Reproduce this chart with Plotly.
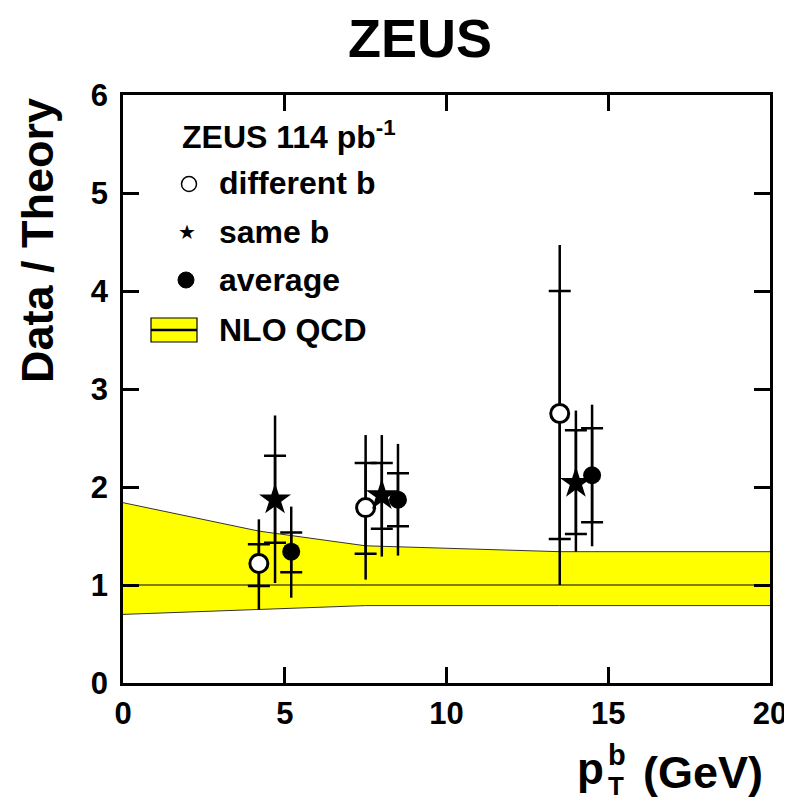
import plotly.graph_objects as go

# ---------------- data ----------------
band_x = [0.0, 4.2, 7.5, 13.5, 20.0]
band_hi = [1.84, 1.55, 1.40, 1.34, 1.34]
band_lo = [0.70, 0.75, 0.79, 0.79, 0.79]
nlo_center = [1.0, 1.0, 1.0, 1.0, 1.0]

diff_pt = [4.2, 7.5, 13.5]
diff_r = [1.22, 1.79, 2.75]
diff_tot_hi = [1.67, 2.53, 4.47]
diff_tot_lo = [0.75, 1.055, 1.0]
diff_stat_hi = [1.415, 2.245, 4.0]
diff_stat_lo = [0.99, 1.32, 1.47]

same_pt = [4.7, 8.0, 14.0]
same_r = [1.87, 1.915, 2.04]
same_tot_hi = [2.73, 2.53, 2.78]
same_tot_lo = [1.02, 1.29, 1.34]
same_stat_hi = [2.32, 2.245, 2.58]
same_stat_lo = [1.43, 1.575, 1.52]

avg_pt = [5.2, 8.5, 14.5]
avg_r = [1.34, 1.87, 2.12]
avg_tot_hi = [1.80, 2.44, 2.84]
avg_tot_lo = [0.87, 1.30, 1.395]
avg_stat_hi = [1.535, 2.14, 2.60]
avg_stat_lo = [1.13, 1.60, 1.64]

x_ticks = [0, 5, 10, 15, 20]
y_ticks = [0, 1, 2, 3, 4, 5, 6]

# ---------------- layout geometry ----------------
# page has an 8px body margin, so the figure is shifted by 8px
OFF = 8
W, H = 792 - OFF, 805 - OFF
PL, PR, PT, PB = 123, 770, 95, 683      # plot frame in page pixels
L, T = PL - OFF, PT - OFF
R, B = (792 - PR), (805 - PB)
PW, PH = PR - PL, PB - PT


def fx(px):
    return (px - PL) / PW


def fy(py):
    return (PB - py) / PH


FONT = "Liberation Sans, Arial, Helvetica, sans-serif"

fig = go.Figure()

# NLO band
fig.add_trace(go.Scatter(x=band_x, y=band_lo, mode="lines",
                         line=dict(color="#333333", width=1), showlegend=False,
                         hoverinfo="skip"))
fig.add_trace(go.Scatter(x=band_x, y=band_hi, mode="lines", fill="tonexty",
                         fillcolor="#ffff00", line=dict(color="#333333", width=1),
                         showlegend=False, hoverinfo="skip"))
fig.add_trace(go.Scatter(x=band_x, y=nlo_center, mode="lines",
                         line=dict(color="#555500", width=1.5), showlegend=False,
                         hoverinfo="skip"))


def add_series(pt, r, tot_hi, tot_lo, stat_hi, stat_lo, marker):
    tu = [h - v for h, v in zip(tot_hi, r)]
    td = [v - l for l, v in zip(tot_lo, r)]
    su = [h - v for h, v in zip(stat_hi, r)]
    sd = [v - l for l, v in zip(stat_lo, r)]
    fig.add_trace(go.Scatter(
        x=pt, y=r, mode="markers", marker=dict(size=1, opacity=0),
        error_y=dict(type="data", symmetric=False, array=tu, arrayminus=td,
                     color="black", thickness=2.5, width=0),
        showlegend=False, hoverinfo="skip"))
    fig.add_trace(go.Scatter(
        x=pt, y=r, mode="markers", marker=dict(size=1, opacity=0),
        error_y=dict(type="data", symmetric=False, array=su, arrayminus=sd,
                     color="black", thickness=2.5, width=11),
        showlegend=False, hoverinfo="skip"))
    fig.add_trace(go.Scatter(x=pt, y=r, mode="markers", marker=marker,
                             showlegend=False))


add_series(diff_pt, diff_r, diff_tot_hi, diff_tot_lo, diff_stat_hi, diff_stat_lo,
           dict(symbol="circle", size=18, color="white",
                line=dict(color="black", width=3)))
add_series(same_pt, same_r, same_tot_hi, same_tot_lo, same_stat_hi, same_stat_lo,
           dict(symbol="star", size=24, color="black",
                line=dict(color="black", width=0)))
add_series(avg_pt, avg_r, avg_tot_hi, avg_tot_lo, avg_stat_hi, avg_stat_lo,
           dict(symbol="circle", size=18, color="black",
                line=dict(color="black", width=0)))

axis_common = dict(showline=True, linecolor="black", linewidth=2.5, mirror="ticks",
                   ticks="inside", ticklen=16, tickwidth=2.5, tickcolor="black",
                   showgrid=False, zeroline=False, automargin=False,
                   tickfont=dict(family=FONT, size=31, color="black", weight="bold"))

fig.update_layout(
    width=W, height=H,
    margin=dict(l=L, r=R, t=T, b=B, autoexpand=False),
    paper_bgcolor="white", plot_bgcolor="white",
    xaxis=dict(range=[0, 20], tickvals=x_ticks, ticktext=[str(v) for v in x_ticks],
               ticklabelstandoff=1, **axis_common),
    yaxis=dict(range=[0, 6], tickvals=y_ticks, ticktext=[str(v) for v in y_ticks],
               ticklabelstandoff=6, **axis_common),
    showlegend=False,
)

ann = []
# title
ann.append(dict(x=fx(420), y=fy(38), xref="paper", yref="paper", text="ZEUS",
                showarrow=False, xanchor="center", yanchor="middle",
                font=dict(family=FONT, size=54, color="black", weight="bold")))
# y axis title
ann.append(dict(x=fx(37), y=fy(240), xref="paper", yref="paper", text="Data / Theory",
                showarrow=False, xanchor="center", yanchor="middle", textangle=-90,
                font=dict(family=FONT, size=45, color="black", weight="bold")))
# x axis title p_T^b (GeV)
ann.append(dict(x=fx(575), y=fy(768), xref="paper", yref="paper", text="p",
                showarrow=False, xanchor="left", yanchor="middle",
                font=dict(family=FONT, size=44, color="black", weight="bold")))
ann.append(dict(x=fx(606), y=fy(755), xref="paper", yref="paper", text="b",
                showarrow=False, xanchor="left", yanchor="middle",
                font=dict(family=FONT, size=29, color="black", weight="bold")))
ann.append(dict(x=fx(606), y=fy(786), xref="paper", yref="paper", text="T",
                showarrow=False, xanchor="left", yanchor="middle",
                font=dict(family=FONT, size=26, color="black", weight="bold")))
ann.append(dict(x=fx(641), y=fy(772), xref="paper", yref="paper", text="(GeV)",
                showarrow=False, xanchor="left", yanchor="middle",
                font=dict(family=FONT, size=45, color="black", weight="bold")))

# legend
leg_font = dict(family=FONT, size=32, color="black", weight="bold")
ann.append(dict(x=fx(180), y=fy(135), xref="paper", yref="paper",
                text="ZEUS 114 pb<sup>-1</sup>", showarrow=False,
                xanchor="left", yanchor="middle", font=leg_font))
for txt, py in [("different b", 183), ("same b", 232), ("average", 280), ("NLO QCD", 330)]:
    ann.append(dict(x=fx(217), y=fy(py), xref="paper", yref="paper", text=txt,
                    showarrow=False, xanchor="left", yanchor="middle", font=leg_font))
ann.append(dict(x=fx(187), y=fy(232), xref="paper", yref="paper", text="★",
                showarrow=False, xanchor="center", yanchor="middle",
                font=dict(family="DejaVu Sans", size=20, color="black")))

shapes = []
# open circle glyph
shapes.append(dict(type="circle", xref="paper", yref="paper",
                   x0=fx(189 - 7.5), x1=fx(189 + 7.5), y0=fy(184 + 7.5), y1=fy(184 - 7.5),
                   line=dict(color="black", width=1.5), fillcolor="white"))
# filled circle glyph
shapes.append(dict(type="circle", xref="paper", yref="paper",
                   x0=fx(186 - 8), x1=fx(186 + 8), y0=fy(280 + 8), y1=fy(280 - 8),
                   line=dict(color="black", width=1), fillcolor="black"))
# NLO box
shapes.append(dict(type="rect", xref="paper", yref="paper",
                   x0=fx(151), x1=fx(197), y0=fy(342), y1=fy(318),
                   line=dict(color="black", width=1.2), fillcolor="#ffff00"))
shapes.append(dict(type="line", xref="paper", yref="paper",
                   x0=fx(151), x1=fx(197), y0=fy(330), y1=fy(330),
                   line=dict(color="black", width=2.5)))

fig.update_layout(annotations=ann, shapes=shapes)

fig.write_html("out.html")
